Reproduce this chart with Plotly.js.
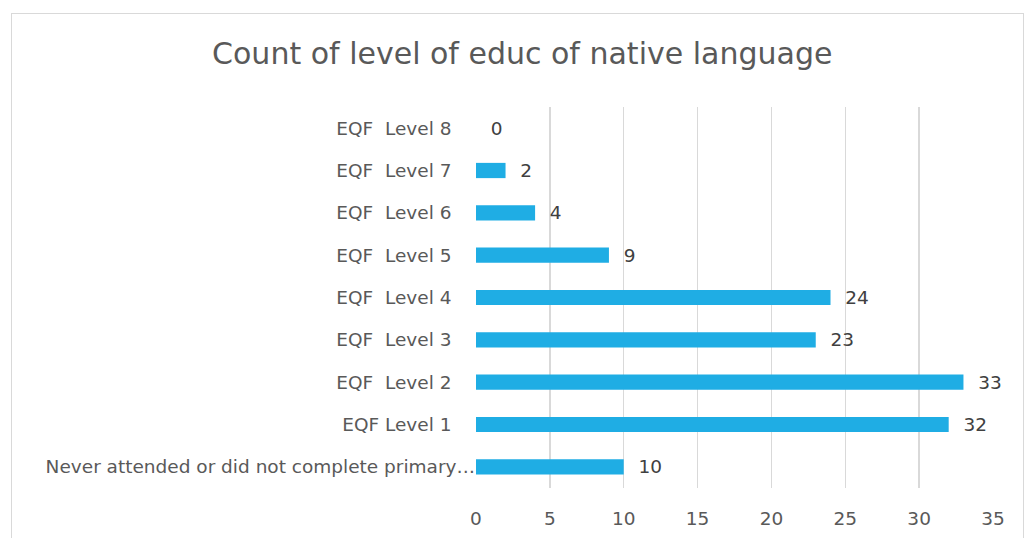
<!DOCTYPE html>
<html>
<head>
<meta charset="utf-8">
<script src="https://cdn.plot.ly/plotly-3.0.1.min.js"></script>
<style>
html,body{margin:0;padding:0;background:#fff;}
#chart{position:absolute;left:0;top:0;width:1024px;height:538px;}
#frame{position:absolute;left:11px;top:13px;width:1011px;height:540px;border:1px solid #d9d9d9;pointer-events:none;}
</style>
</head>
<body>
<div id="chart"></div>
<div id="frame"></div>
<script>
const categories = [
  "Never attended or did not complete primary…",
  "EQF Level 1",
  "EQF  Level 2",
  "EQF  Level 3",
  "EQF  Level 4",
  "EQF  Level 5",
  "EQF  Level 6",
  "EQF  Level 7",
  "EQF  Level 8"
];
const counts = [10, 32, 33, 23, 24, 9, 4, 2, 0];
const xTicks = [0, 5, 10, 15, 20, 25, 30, 35];
const titleText = "Count of level of educ of native language";

const fontFam = "'DejaVu Sans', sans-serif";
const grey = "#595959";

const yTickText = categories.map(c => c.endsWith("…") ? c : c + "    ");

Plotly.newPlot("chart", [{
  type: "bar",
  orientation: "h",
  y: categories,
  x: counts,
  marker: {color: "#1FADE4"},
  width: 0.36,
  text: counts.map(String),
  texttemplate: "  %{text}",
  textposition: "outside",
  constraintext: "none",
  cliponaxis: false,
  textfont: {family: fontFam, size: 18.5, color: "#404040"},
  hoverinfo: "none"
}], {
  width: 1024, height: 538,
  margin: {l: 476, r: 31, t: 107, b: 50, pad: 0},
  paper_bgcolor: "#fff", plot_bgcolor: "#fff",
  title: {text: titleText, x: 0.51, xanchor: "center", y: 0.9, yanchor: "middle",
          font: {family: fontFam, size: 30, color: grey}},
  showlegend: false,
  bargap: 0.64,
  xaxis: {
    range: [0, 35], tickvals: xTicks, ticktext: xTicks.map(String),
    showgrid: true, gridcolor: "#d9d9d9", gridwidth: 1.5,
    zeroline: false, showline: false, ticks: "",
    tickfont: {family: fontFam, size: 18.5, color: grey},
    ticklabelstandoff: 17, fixedrange: true
  },
  yaxis: {
    type: "category", categoryorder: "array", categoryarray: categories,
    tickvals: categories, ticktext: yTickText,
    showgrid: false, zeroline: false, showline: false, ticks: "",
    tickfont: {family: fontFam, size: 18.5, color: grey},
    automargin: false, fixedrange: true
  }
}, {staticPlot: true, displayModeBar: false});
</script>
</body>
</html>
